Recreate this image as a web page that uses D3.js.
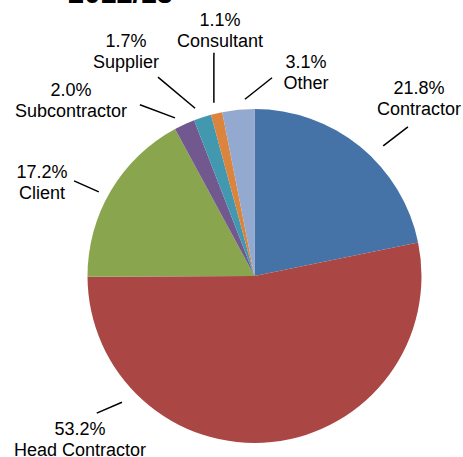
<!DOCTYPE html>
<html>
<head>
<meta charset="utf-8">
<script src="https://cdnjs.cloudflare.com/ajax/libs/d3/7.8.5/d3.min.js"></script>
<style>
  body { margin: 0; background: #fff; }
</style>
</head>
<body>
<div id="chart"></div>
<script>
// Data
var title = "2012/13";
var categories = ["Contractor", "Head Contractor", "Client", "Subcontractor", "Supplier", "Consultant", "Other"];
var values = [21.8, 53.2, 17.2, 2.0, 1.7, 1.1, 3.1];
var colours = ["#4572A7", "#AA4643", "#89A54E", "#71588F", "#4198AF", "#DB843D", "#93A9CF"];

// SVG Variables
var WIDTH = 463;
var HEIGHT = 457;
var cx = 254.5, cy = 276, radius = 167;

// label placement (text centre / first baseline, leader line in polar coords: angle deg, radius)
var labelPos = [
    { x: 419, y: 94,  a0: 44.7,  r0: 183, a1: 45.8,  r1: 214 },
    { x: 80,  y: 435, a0: 226.4, r0: 183, a1: 229,   r1: 209 },
    { x: 42,  y: 178, a0: 298.4, r0: 177, a1: 297.8, r1: 204 },
    { x: 71,  y: 96,  a0: 333.3, r0: 177, a1: 326.2, r1: 206 },
    { x: 126, y: 47,  a0: 340.5, r0: 178, a1: 334.1, r1: 221 },
    { x: 220, y: 26,  a0: 346.8, r0: 178, a1: 349.7, r1: 227 },
    { x: 306, y: 68,  a0: 356.9, r0: 177, a1: 5.05,  r1: 199 }
];

var svg = d3.select("#chart").append("svg")
    .attr("width", WIDTH)
    .attr("height", HEIGHT)
    .style("font-family", "'Liberation Sans', Arial, sans-serif");

// Title (cut off at the top like the original)
svg.append("text")
    .attr("x", 68)
    .attr("y", 3)
    .attr("font-size", "29px")
    .attr("font-weight", "bold")
    .attr("fill", "#000")
    .text(title);

var pie = d3.pie().sort(null).value(function(d) { return d; });
var arc = d3.arc().innerRadius(0).outerRadius(radius);
var colour = d3.scaleOrdinal().domain(categories).range(colours);

var slices = pie(values);

var g = svg.append("g").attr("transform", "translate(" + cx + "," + cy + ")");

g.selectAll("path").data(slices).enter().append("path")
    .attr("d", arc)
    .attr("fill", function(d, i) { return colour(categories[i]); });

// Leader lines
var rad = Math.PI / 180;
g.selectAll("line").data(labelPos).enter().append("line")
    .attr("x1", function(d) { return d3.pointRadial(d.a0 * rad, d.r0)[0]; })
    .attr("y1", function(d) { return d3.pointRadial(d.a0 * rad, d.r0)[1]; })
    .attr("x2", function(d) { return d3.pointRadial(d.a1 * rad, d.r1)[0]; })
    .attr("y2", function(d) { return d3.pointRadial(d.a1 * rad, d.r1)[1]; })
    .attr("stroke", "#000")
    .attr("stroke-width", 1.5);

// Labels
var labels = svg.selectAll("text.label").data(categories).enter().append("text")
    .attr("class", "label")
    .attr("text-anchor", "middle")
    .attr("font-size", "18px")
    .attr("fill", "#000");

labels.append("tspan")
    .attr("x", function(d, i) { return labelPos[i].x; })
    .attr("y", function(d, i) { return labelPos[i].y; })
    .text(function(d, i) { return values[i].toFixed(1) + "%"; });

labels.append("tspan")
    .attr("x", function(d, i) { return labelPos[i].x; })
    .attr("y", function(d, i) { return labelPos[i].y + 21; })
    .text(function(d) { return d; });
</script>
</body>
</html>
